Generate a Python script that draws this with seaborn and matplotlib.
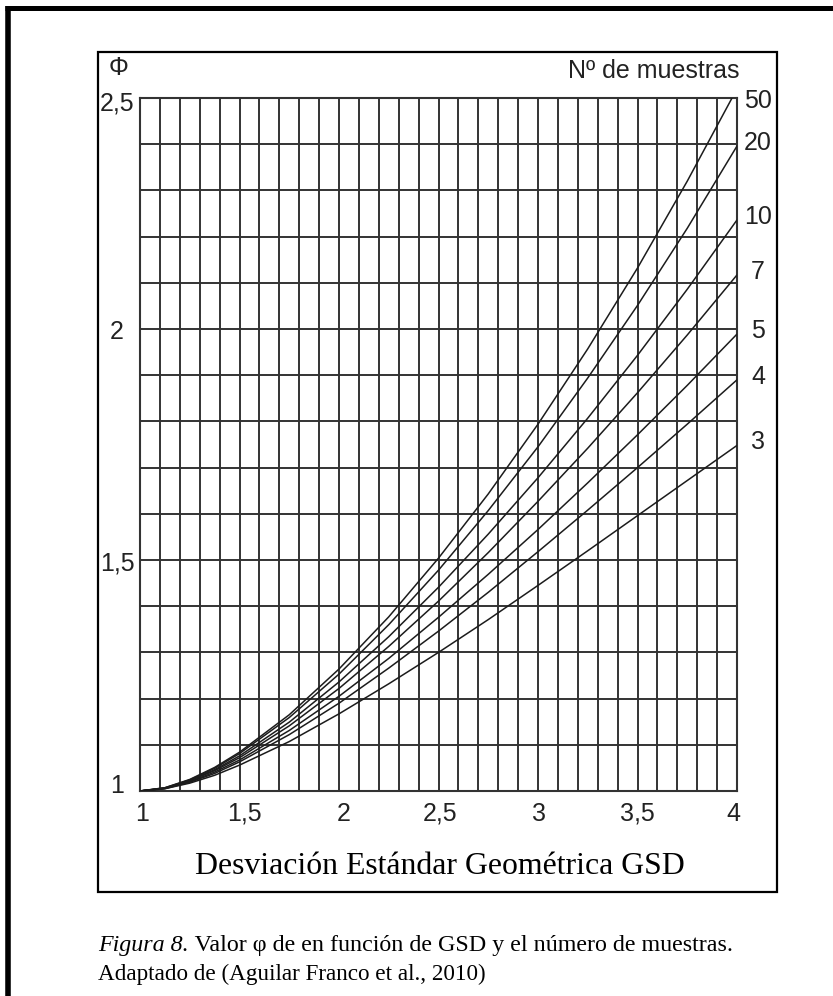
import numpy as np
import pandas as pd
import matplotlib
matplotlib.use("Agg")
import matplotlib.pyplot as plt
import seaborn as sns
from matplotlib.ticker import MultipleLocator, FixedLocator, NullFormatter
from matplotlib.patches import Rectangle
from matplotlib.lines import Line2D

# ---------------- data ----------------
gsd = [1.0, 1.125, 1.25, 1.375, 1.5, 1.75, 2.0, 2.25, 2.5, 2.75, 3.0, 3.25, 3.5, 3.75, 4.0]
n_labels = ["3", "4", "5", "7", "10", "20", "50"]
phi_n3  = [1.000, 1.005, 1.017, 1.034, 1.056, 1.107, 1.167, 1.232, 1.300, 1.371, 1.445, 1.520, 1.596, 1.672, 1.748]
phi_n4  = [1.000, 1.005, 1.019, 1.038, 1.063, 1.122, 1.190, 1.266, 1.346, 1.430, 1.518, 1.608, 1.700, 1.794, 1.890]
phi_n5  = [1.000, 1.006, 1.020, 1.041, 1.067, 1.131, 1.205, 1.287, 1.376, 1.469, 1.566, 1.667, 1.771, 1.878, 1.989]
phi_n7  = [1.000, 1.006, 1.022, 1.044, 1.072, 1.141, 1.222, 1.313, 1.411, 1.516, 1.627, 1.742, 1.862, 1.987, 2.117]
phi_n10 = [1.000, 1.006, 1.023, 1.046, 1.076, 1.149, 1.236, 1.334, 1.441, 1.556, 1.678, 1.807, 1.943, 2.086, 2.236]
phi_n20 = [1.000, 1.007, 1.024, 1.049, 1.081, 1.159, 1.253, 1.360, 1.478, 1.607, 1.745, 1.894, 2.051, 2.218, 2.396]
phi_n50 = [1.000, 1.007, 1.025, 1.051, 1.084, 1.165, 1.264, 1.377, 1.504, 1.643, 1.794, 1.957, 2.132, 2.320, 2.520]
series = [phi_n3, phi_n4, phi_n5, phi_n7, phi_n10, phi_n20, phi_n50]

x_ticks = [1.0, 1.5, 2.0, 2.5, 3.0, 3.5, 4.0]
x_tick_labels = ["1", "1,5", "2", "2,5", "3", "3,5", "4"]
y_ticks = [1.0, 1.5, 2.0, 2.5]
y_tick_labels = ["1", "1,5", "2", "2,5"]

x_title = "Desviación Estándar Geométrica GSD"
y_symbol = "Φ"
legend_title = "Nº de muestras"
caption_italic = "Figura 8."
caption_rest = " Valor φ de en función de GSD y el número de muestras."
caption_line2 = "Adaptado de (Aguilar Franco et al., 2010)"

df = pd.DataFrame({
    "GSD": np.tile(gsd, len(series)),
    "phi": np.concatenate(series),
    "n": np.repeat(n_labels, len(gsd)),
})

# ---------------- style ----------------
sns.set_style("white")
plt.rcParams["font.family"] = ["Liberation Sans", "DejaVu Sans"]
W, H = 833, 996
grid_c = "#333333"
curve_c = "#1c1c1c"

fig = plt.figure(figsize=(W / 100, H / 100), dpi=100)
fig.patch.set_facecolor("white")

ax_l, ax_r, ax_t, ax_b = 140, 737, 98, 791
ax = fig.add_axes([ax_l / W, 1 - ax_b / H, (ax_r - ax_l) / W, (ax_b - ax_t) / H])

sns.lineplot(data=df, x="GSD", y="phi", hue="n", hue_order=n_labels,
             palette={k: curve_c for k in n_labels}, estimator=None,
             legend=False, linewidth=1.1, ax=ax, zorder=3)

ax.set_xlim(1, 4)
ax.set_ylim(1, 2.5)
ax.xaxis.set_major_locator(FixedLocator(x_ticks))
ax.yaxis.set_major_locator(FixedLocator(y_ticks))
ax.xaxis.set_minor_locator(MultipleLocator(0.1))
ax.yaxis.set_minor_locator(MultipleLocator(0.1))
ax.xaxis.set_major_formatter(NullFormatter())
ax.yaxis.set_major_formatter(NullFormatter())
ax.grid(True, which="both", color=grid_c, linewidth=1.4)
ax.tick_params(which="both", length=0)
ax.set_xlabel("")
ax.set_ylabel("")
for s in ax.spines.values():
    s.set_color(grid_c)
    s.set_linewidth(1.5)
    s.set_visible(True)

fs = 18
# y tick labels (centred left of the axis)
y_dy = [-2, -11, -10, -13]
for v, lab, dy in zip(y_ticks, y_tick_labels, y_dy):
    ax.annotate(lab, xy=(1, v), xycoords="data", xytext=(-23, dy),
                textcoords="offset pixels", ha="center", va="baseline",
                fontsize=fs, color="#222222", annotation_clip=False)
# x tick labels
x_dx = [2, 5, 5, 2, 1, 0, -4]
for v, lab, dx in zip(x_ticks, x_tick_labels, x_dx):
    ax.annotate(lab, xy=(v, 1), xycoords="data", xytext=(dx, -30),
                textcoords="offset pixels", ha="center", va="baseline",
                fontsize=fs, color="#222222", annotation_clip=False)

# curve labels at the right
for lab, vals in zip(n_labels, series):
    end = vals[-1]
    y = min(end, 2.5)
    dy = -4 if end < 2.5 else -10
    ax.annotate(lab, xy=(4, y), xycoords="data", xytext=(21, dy),
                textcoords="offset pixels", ha="center", va="baseline",
                fontsize=fs, color="#222222", annotation_clip=False)

def ftext(x, y, s, **kw):
    return fig.text(x / W, 1 - y / H, s, **kw)

ftext(118.5, 75, y_symbol, ha="center", va="baseline", fontsize=fs, color="#222222")
ftext(739, 78, legend_title, ha="right", va="baseline", fontsize=fs, color="#222222")

serif = ["Liberation Serif", "DejaVu Serif"]
ftext(440, 874, x_title, ha="center", va="baseline", fontsize=22.9,
      family=serif, color="black")

# caption
t1 = ftext(98, 951, caption_italic, ha="left", va="baseline", fontsize=17.3,
           family=serif, style="italic", color="black")
r = fig.canvas.get_renderer()
w1 = t1.get_window_extent(renderer=r).width
ftext(98 + w1, 951, caption_rest, ha="left", va="baseline", fontsize=17.3,
      family=serif, color="black")
ftext(98, 980, caption_line2, ha="left", va="baseline", fontsize=16.7,
      family=serif, color="black")

# inner frame
fig.add_artist(Rectangle((98 / W, 1 - 892 / H), (777 - 98) / W, (892 - 52) / H,
                         transform=fig.transFigure, fill=False, edgecolor="black",
                         linewidth=1.6, zorder=0))
# outer thick border (top and left)
fig.add_artist(Line2D([5 / W, 1.0], [1 - 8.5 / H, 1 - 8.5 / H], transform=fig.transFigure,
                      color="black", linewidth=3.6, solid_capstyle="butt"))
fig.add_artist(Line2D([7.5 / W, 7.5 / W], [0.0, 1 - 6.5 / H], transform=fig.transFigure,
                      color="black", linewidth=4.0, solid_capstyle="butt"))

fig.savefig("out.png", dpi=100, facecolor="white")
